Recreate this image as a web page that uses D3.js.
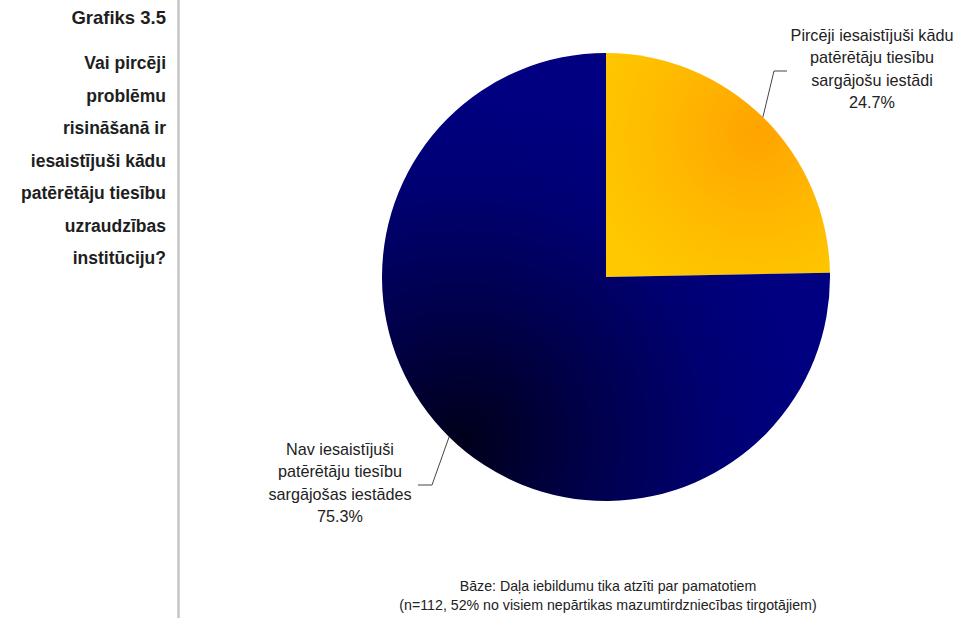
<!DOCTYPE html>
<html>
<head>
<meta charset="utf-8">
<script src="https://cdn.jsdelivr.net/npm/d3@7"></script>
<style>
  html, body { margin: 0; padding: 0; background: #fff; }
  svg { display: block; font-family: Arial, "Liberation Sans", sans-serif; }
</style>
</head>
<body>
<svg id="chart" width="955" height="618"></svg>
<script>
// Slice data
const categories = [
  "Pircēji iesaistījuši kādu patērētāju tiesību sargājošu iestādi",
  "Nav iesaistījuši patērētāju tiesību sargājošas iestādes"
];
const values = [24.7, 75.3];
const labelLines = [
  ["Pircēji iesaistījuši kādu", "patērētāju tiesību", "sargājošu iestādi", "24.7%"],
  ["Nav iesaistījuši", "patērētāju tiesību", "sargājošas iestādes", "75.3%"]
];
const titleLines = [
  "Vai pircēji", "problēmu", "risināšanā ir", "iesaistījuši kādu",
  "patērētāju tiesību", "uzraudzības", "institūciju?"
];
const footnoteLines = [
  "Bāze: Daļa iebildumu tika atzīti par pamatotiem",
  "(n=112, 52% no visiem nepārtikas mazumtirdzniecības tirgotājiem)"
];

const svg = d3.select("#chart");
const cx = 606, cy = 277, r = 224;

// Shaded fills for the two slices (coordinates relative to the pie centre)
const defs = svg.append("defs");
const gy = defs.append("radialGradient").attr("id", "gYellow")
  .attr("gradientUnits", "userSpaceOnUse")
  .attr("cx", 150).attr("cy", -145).attr("r", 175);
gy.append("stop").attr("offset", "0%").attr("stop-color", "#ffa300");
gy.append("stop").attr("offset", "50%").attr("stop-color", "#ffb800");
gy.append("stop").attr("offset", "100%").attr("stop-color", "#ffc800");

const gn = defs.append("radialGradient").attr("id", "gNavy")
  .attr("gradientUnits", "userSpaceOnUse")
  .attr("cx", -145).attr("cy", 165).attr("r", 340);
gn.append("stop").attr("offset", "0%").attr("stop-color", "#00001a");
gn.append("stop").attr("offset", "40%").attr("stop-color", "#00004c");
gn.append("stop").attr("offset", "75%").attr("stop-color", "#000072");
gn.append("stop").attr("offset", "100%").attr("stop-color", "#000080");

const fills = ["url(#gYellow)", "url(#gNavy)"];

// Divider line on the left
svg.append("line")
  .attr("x1", 178.5).attr("x2", 178.5).attr("y1", 0).attr("y2", 618)
  .attr("stroke", "#c4c4c4").attr("stroke-width", 2.5);

// Title block, right aligned
svg.append("text")
  .attr("x", 166).attr("y", 24)
  .attr("text-anchor", "end")
  .attr("font-size", 18.5).attr("font-weight", "bold").attr("fill", "#1e1e1e")
  .text("Grafiks 3.5");

svg.append("g").selectAll("text").data(titleLines).join("text")
  .attr("x", 166)
  .attr("y", (d, i) => 69 + i * 32.5)
  .attr("text-anchor", "end")
  .attr("font-size", 17.5).attr("font-weight", "bold").attr("fill", "#1e1e1e")
  .text(d => d);

// Pie
const pie = d3.pie().sort(null).value(d => d);
const arc = d3.arc().innerRadius(0).outerRadius(r);
const arcs = pie(values);

const g = svg.append("g").attr("transform", `translate(${cx},${cy})`);
g.selectAll("path").data(arcs).join("path")
  .attr("d", arc)
  .attr("fill", (d, i) => fills[i]);

// Leader lines: start on the rim at each slice's mid-angle, bend, then run level
const rim = d => {
  const a = (d.startAngle + d.endAngle) / 2;
  return [cx + r * Math.sin(a), cy - r * Math.cos(a)];
};
const leaders = [
  [rim(arcs[0]), [774, 71], [787, 71]],
  [rim(arcs[1]), [432, 485], [418, 485]]
];
svg.append("g").selectAll("path").data(leaders).join("path")
  .attr("d", d => d3.line()(d))
  .attr("fill", "none").attr("stroke", "#444").attr("stroke-width", 1);

// Slice labels
const labelPos = [[872, 41], [340, 455]];
labelLines.forEach((lines, k) => {
  svg.append("text")
    .attr("text-anchor", "middle")
    .attr("font-size", 16.2).attr("fill", "#222")
    .selectAll("tspan").data(lines).join("tspan")
    .attr("x", labelPos[k][0])
    .attr("y", (d, i) => labelPos[k][1] + i * 22.4)
    .text(d => d);
});

// Footnote
svg.append("g").selectAll("text").data(footnoteLines).join("text")
  .attr("x", 608)
  .attr("y", (d, i) => 591 + i * 19)
  .attr("text-anchor", "middle")
  .attr("font-size", 14.2).attr("fill", "#222")
  .text(d => d);
</script>
</body>
</html>
